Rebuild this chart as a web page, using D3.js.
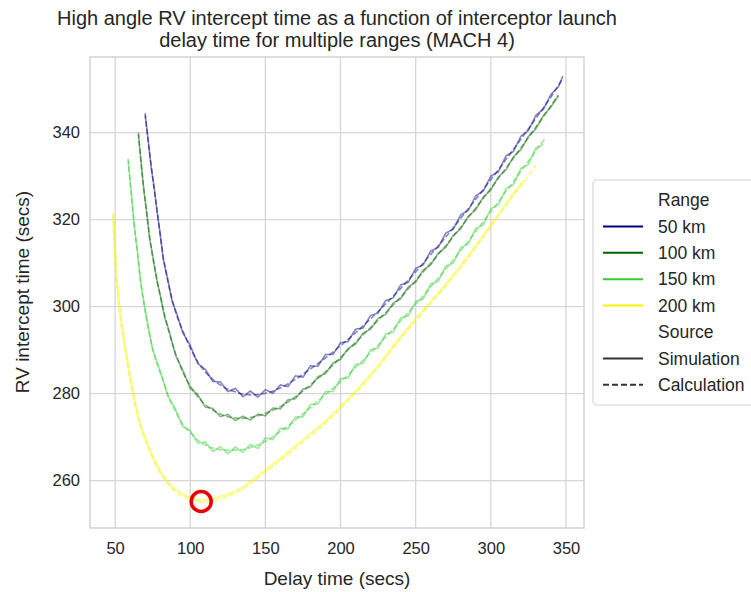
<!DOCTYPE html>
<html>
<head>
<meta charset="utf-8">
<script src="https://cdn.jsdelivr.net/npm/d3@7"></script>
<style>
  body { margin: 0; background: #fff; }
  text { font-family: "Liberation Sans", Arial, sans-serif; fill: #262626; }
</style>
</head>
<body>
<script>
// Ranges and sources shown in the legend
const ranges = ["50 km", "100 km", "150 km", "200 km"];
const sources = ["Simulation", "Calculation"];

// Axis ticks
const xTicks = [50, 100, 150, 200, 250, 300, 350];
const yTicks = [260, 280, 300, 320, 340];

// Calculation curves [delay, intercept]
const calc50 = [[70,344.5],[72,338],[74,332.5],[76,327],[78,322],[80,316.5],[82,311.5],[85,306],[88,301.5],[91,298],[95,294.5],[100,290.5],[105,287.3],[110,285],[115,283.3],[120,282],[125,281],[130,280.4],[135,279.9],[140,279.7],[145,279.8],[150,280.1],[160,281.3],[170,283.3],[180,285.7],[190,288.2],[200,291],[210,294],[220,297.2],[230,300.6],[240,304.2],[250,308],[260,312],[270,316],[280,320.3],[290,324.7],[300,329.2],[310,333.8],[320,338.5],[330,343.3],[340,348.2],[348,352.5]];
const calc100 = [[65.5,340],[67,334],[69,327.5],[71,321.5],[73,316],[75.5,310.5],[78,306],[80,302.5],[83,298],[86,294],[90,289.5],[95,285],[100,281.8],[105,279.3],[110,277.5],[115,276.2],[120,275.3],[125,274.7],[130,274.4],[135,274.3],[140,274.5],[150,275.5],[160,277],[170,279.3],[180,282],[190,285],[200,288.3],[210,291.8],[220,295.2],[230,298.6],[240,302.2],[250,306],[260,310],[270,314],[280,318.3],[290,322.7],[300,327.2],[310,331.8],[320,336.5],[330,341.3],[340,346.2],[345,348.7]];
const calc150 = [[58.7,334],[61,325],[63,318],[65,312],[66.7,306.5],[69,301],[72,295],[76,289],[80,284.8],[82,283],[86,279],[90,276],[95,273],[100,271],[105,269.3],[110,268.2],[115,267.5],[122,267],[130,267],[142,267.8],[150,269],[160,271.3],[171,274.2],[180,276.8],[190,279.8],[200,282.7],[210,286],[220,289.4],[230,293],[240,296.7],[250,300.5],[260,304.5],[270,308.6],[280,312.9],[290,317.3],[300,321.8],[310,326.4],[320,331.1],[330,335.8],[336,338.6]];
const calc200 = [[48.7,321.5],[49.5,316],[50.3,311],[51.2,306],[52.5,301],[54,296.5],[56,292],[58,287.5],[60,283.5],[63,278],[66,273.5],[70,269.5],[75,265.2],[80,261.8],[85,259.3],[90,257.5],[98,256],[104,255.2],[108,255],[114,255.2],[120,255.8],[127,256.6],[135,258],[142,259.8],[149,261.7],[160,264.6],[171,267.7],[180,270.3],[190,273.2],[200,276.6],[215,282],[225,286],[238,291.8],[250,296.8],[267,303.5],[280,309],[293,315],[305,320.8],[315,325.6],[322,328.6],[330,332.5]];

// Simulation runs [delay, intercept]
const sim50 = [[70,344],[72,338.4],[74,332],[76,327.4],[78,321.6],[80,316.8],[82,311],[85,306.4],[88,301.2],[91,298.4],[95,294],[100,291.1],[105,286.9],[110,285.6],[115,282.8],[120,282.7],[125,280.5],[130,281.2],[135,279.3],[140,280.6],[145,279.2],[150,280.9],[155,280.1],[160,282],[165,281.6],[170,284.1],[175,283.8],[180,286.4],[185,286.3],[190,289],[195,289],[200,291.7],[205,292],[210,294.8],[215,295.1],[220,298],[225,298.5],[230,301.4],[235,302],[240,305],[245,305.6],[250,308.8],[255,309.6],[260,312.8],[265,313.6],[270,316.9],[275,317.8],[280,321.1],[285,322.1],[290,325.5],[295,326.6],[300,330],[305,331],[310,334.6],[315,335.7],[320,339.2],[325,340.5],[330,344],[335,345.4],[340,348.8],[345,350.6],[348,353]];
const sim100 = [[65.5,339.6],[67,334.3],[69,327.1],[71,321.8],[73,315.6],[75.5,310.8],[78,305.6],[80,302.8],[83,297.5],[86,294.4],[90,289],[95,285.4],[100,281.2],[105,279.8],[110,276.9],[115,276.6],[120,274.7],[125,275.2],[130,273.8],[135,274.8],[140,273.9],[145,275.3],[150,274.9],[155,276.7],[160,276.5],[165,278.6],[170,278.8],[175,281],[180,281.6],[185,283.9],[190,284.6],[195,287],[200,287.9],[205,290.4],[210,291.4],[215,293.9],[220,294.8],[225,297.3],[230,298.2],[235,300.8],[240,301.8],[245,304.5],[250,305.6],[255,308.4],[260,309.6],[265,312.3],[270,313.6],[275,316.4],[280,317.9],[285,320.8],[290,322.3],[295,325.2],[300,326.8],[305,329.8],[310,331.4],[315,334.4],[320,336.1],[325,339.1],[330,340.9],[335,343.9],[340,345.9],[345,348.5]];
const sim150 = [[58.7,333.6],[61,325.3],[63,317.6],[65,312.3],[67,305.7],[70,299.3],[75,290.1],[80,285.2],[85,279.5],[90,276.6],[95,272.4],[100,271.5],[105,268.6],[110,268.9],[115,266.7],[120,267.8],[125,266.2],[130,267.7],[135,266.5],[140,268.3],[145,267.4],[150,269.8],[155,269.4],[160,272],[165,271.9],[170,274.6],[175,274.7],[180,277.5],[185,277.6],[190,280.5],[195,280.5],[200,283.4],[205,283.6],[210,286.7],[215,287],[220,290.1],[225,290.5],[230,293.7],[235,294.1],[240,297.4],[245,297.9],[250,301.2],[255,301.8],[260,305.2],[265,305.8],[270,309.3],[275,310],[280,313.6],[285,314.4],[290,318],[295,318.8],[300,322.5],[305,323.4],[310,327.1],[315,328],[320,331.8],[325,332.7],[330,336.5],[335,337.3]];
const sim200 = [[48.7,321],[49.5,315.6],[50.3,310.7],[51.2,305.8],[52.5,300.9],[54,296.6],[56,292.2],[58,287.8],[60,283.8],[63,278.4],[66,273.9],[70,269.9],[75,265.6],[80,262.2],[85,259.7],[90,257.9],[98,256.4],[104,255.6],[108,255.5],[114,255.7],[120,256.3],[127,257.1],[135,258.5],[142,260.3],[149,262.2],[160,265.1],[171,268.2],[180,270.8],[190,273.7],[200,277],[215,282.4],[225,286.4],[238,292.2],[250,297.2],[267,303.9],[280,309.4],[293,315.4],[305,321.2],[315,326],[322,329]];

// Marked minimum of the 200 km curve
const minPoint = [107.3, 255.2];

const calcSeries = [calc50, calc100, calc150, calc200];
const simSeries = [sim50, sim100, sim150, sim200];
const colors = ["#000080", "#006400", "#32cd32", "#f5f500"];

const width = 751, height = 592;
const margin = {left: 90, right: 167, top: 57, bottom: 64};

const svg = d3.select("body").append("svg")
    .attr("width", width)
    .attr("height", height);

const xScale = d3.scaleLinear()
    .domain([33.3, 362])
    .range([margin.left, width - margin.right]);

const yScale = d3.scaleLinear()
    .domain([249.1, 357.4])
    .range([height - margin.bottom, margin.top]);

// Grid lines
svg.append("g")
    .selectAll("line.vgrid")
    .data(xTicks)
    .enter()
    .append("line")
    .attr("x1", d => xScale(d)).attr("x2", d => xScale(d))
    .attr("y1", margin.top).attr("y2", height - margin.bottom)
    .attr("stroke", "#d6d6d6").attr("stroke-width", 1.3);

svg.append("g")
    .selectAll("line.hgrid")
    .data(yTicks)
    .enter()
    .append("line")
    .attr("x1", margin.left).attr("x2", width - margin.right)
    .attr("y1", d => yScale(d)).attr("y2", d => yScale(d))
    .attr("stroke", "#d6d6d6").attr("stroke-width", 1.3);

// Plot frame
svg.append("rect")
    .attr("x", margin.left).attr("y", margin.top)
    .attr("width", width - margin.right - margin.left)
    .attr("height", height - margin.bottom - margin.top)
    .attr("fill", "none")
    .attr("stroke", "#cccccc").attr("stroke-width", 1.3);

// Axes (labels only, seaborn style)
const xAxis = svg.append("g")
    .attr("transform", `translate(0,${height - margin.bottom})`)
    .call(d3.axisBottom(xScale).tickValues(xTicks).tickSize(0).tickPadding(14));
const yAxis = svg.append("g")
    .attr("transform", `translate(${margin.left},0)`)
    .call(d3.axisLeft(yScale).tickValues(yTicks).tickSize(0).tickPadding(10));
[xAxis, yAxis].forEach(ax => {
    ax.select(".domain").remove();
    ax.selectAll("text")
        .style("font-size", "16.5px")
        .style("font-family", "Liberation Sans, Arial, sans-serif")
        .attr("fill", "#262626");
});

// Lines
const line = d3.line()
    .x(d => xScale(d[0]))
    .y(d => yScale(d[1]));
const smoothLine = d3.line()
    .curve(d3.curveMonotoneX)
    .x(d => xScale(d[0]))
    .y(d => yScale(d[1]));

const plot = svg.append("g");
simSeries.forEach((s, i) => {
    plot.append("path")
        .attr("d", line(s))
        .attr("fill", "none")
        .attr("stroke", colors[i])
        .attr("stroke-width", i === 3 ? 2.4 : 1.6)
        .attr("stroke-opacity", i === 3 ? 0.38 : 0.48);
});
calcSeries.forEach((s, i) => {
    plot.append("path")
        .attr("d", smoothLine(s))
        .attr("fill", "none")
        .attr("stroke", colors[i])
        .attr("stroke-width", i === 3 ? 2.4 : 1.6)
        .attr("stroke-dasharray", "5.5,2.4")
        .attr("stroke-opacity", i === 3 ? 0.38 : 0.48);
});

// Red circle at the minimum
svg.append("circle")
    .attr("cx", xScale(minPoint[0]))
    .attr("cy", yScale(minPoint[1]))
    .attr("r", 10)
    .attr("fill", "none")
    .attr("stroke", "#e60000")
    .attr("stroke-width", 3.5);

// Title
svg.append("text")
    .attr("x", 337).attr("y", 25)
    .attr("text-anchor", "middle")
    .style("font-size", "20px")
    .text("High angle RV intercept time as a function of interceptor launch");
svg.append("text")
    .attr("x", 337).attr("y", 47)
    .attr("text-anchor", "middle")
    .style("font-size", "20px")
    .text("delay time for multiple ranges (MACH 4)");

// Axis labels
svg.append("text")
    .attr("x", 337).attr("y", 585)
    .attr("text-anchor", "middle")
    .style("font-size", "19px")
    .text("Delay time (secs)");
svg.append("text")
    .attr("transform", "rotate(-90)")
    .attr("x", -292).attr("y", 29)
    .attr("text-anchor", "middle")
    .style("font-size", "19px")
    .text("RV intercept time (secs)");

// Legend
const legend = svg.append("g");
legend.append("rect")
    .attr("x", 593).attr("y", 180)
    .attr("width", 175).attr("height", 225)
    .attr("rx", 4)
    .attr("fill", "#fff")
    .attr("stroke", "#d4d4d4").attr("stroke-width", 1.2);

const rowH = 26.4;
const legendItems = [{label: "Range"}]
    .concat(ranges.map((r, i) => ({label: r, color: colors[i]})))
    .concat([{label: "Source"}])
    .concat(sources.map((s, i) => ({label: s, color: "#333", dash: i === 1})));

legendItems.forEach((d, i) => {
    const y = 200 + i * rowH;
    if (d.color) {
        legend.append("line")
            .attr("x1", 603).attr("x2", 643)
            .attr("y1", y).attr("y2", y)
            .attr("stroke", d.color)
            .attr("stroke-width", 2)
            .attr("stroke-dasharray", d.dash ? "6,3" : null);
    }
    legend.append("text")
        .attr("x", 658).attr("y", y)
        .attr("dy", "0.35em")
        .style("font-size", "17.5px")
        .text(d.label);
});
</script>
</body>
</html>
